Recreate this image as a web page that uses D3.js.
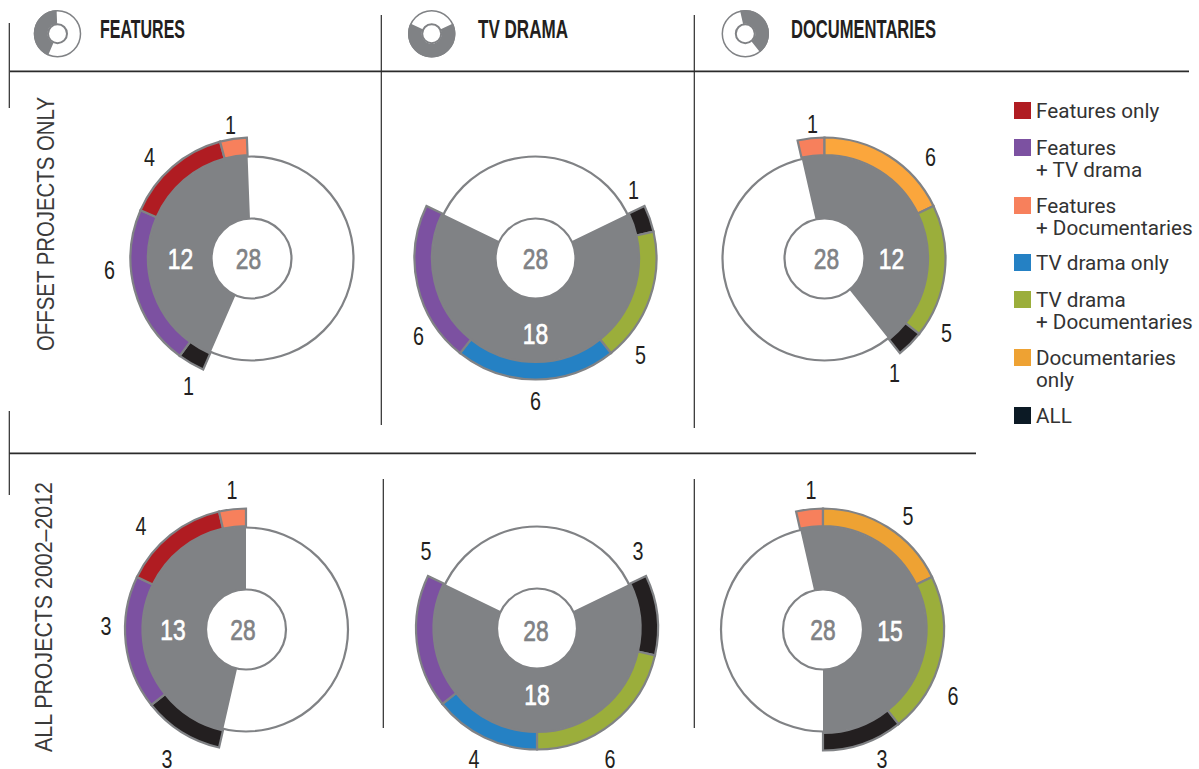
<!DOCTYPE html>
<html lang="en">
<head>
    <meta charset="UTF-8">
    <title>Projects by format</title>
    <style>
        body, html { margin: 0; padding: 0; background-color: #ffffff; }
        svg { display: block; }
        .narrow { font-family: "Liberation Sans", sans-serif; }
        .legend text { font-family: Roboto, sans-serif; font-size: 20.7px; fill: #333; }
    </style>
</head>
<body>
    <svg id="chart" width="1199" height="769"></svg>

    <script src="https://d3js.org/d3.v7.min.js"></script>
    <script>
        // Legend categories
        const categories = ["Features only", "Features + TV drama", "Features + Documentaries",
            "TV drama only", "TV drama + Documentaries", "Documentaries only", "ALL"];
        const legendLines = [["Features only"], ["Features", "+ TV drama"], ["Features", "+ Documentaries"],
            ["TV drama only"], ["TV drama", "+ Documentaries"], ["Documentaries", "only"], ["ALL"]];
        const categoryColors = ["#b01c22", "#7c51a1", "#f7805c", "#2581c4", "#9bae3b", "#eea233", "#231f20"];
        const legendColors = ["#b01c22", "#7c51a1", "#f7805c", "#2581c4", "#9bae3b", "#eea233", "#0c1a25"];

        const totalProjects = 28;
        const columnTitles = ["FEATURES", "TV DRAMA", "DOCUMENTARIES"];
        const rowTitles = ["OFFSET PROJECTS ONLY", "ALL PROJECTS 2002\u20132012"];

        // Each row: category index, arc length in projects, number printed beside it
        const offsetFeatures = [[6, 1, 1], [1, 6, 6], [0, 4, 4], [2, 1, 1]];
        const offsetDrama = [[6, 1, 1], [4, 5, 5], [3, 6, 6], [1, 6, 6]];
        const offsetDocs = [[2, 1, 1], [5, 5, 6], [4, 5, 5], [6, 1, 1]];
        const allFeatures = [[6, 3, 3], [1, 5, 3], [0, 4, 4], [2, 1, 1]];
        const allDrama = [[6, 3, 3], [4, 6, 6], [3, 4, 4], [1, 5, 5]];
        const allDocs = [[2, 1, 1], [5, 5, 5], [4, 6, 6], [6, 3, 3]];
        const wedgeTotals = [12, 18, 12, 13, 18, 15];

        // Layout, kept apart from the values
        const charts = [
            { rows: offsetFeatures, start: -12.17, cx: 251.5, cy: 258.5, total: [-71, 0], mid: [-3, 0],
              spots: [[-63, 127], [-142, 11], [-102, -102], [-21, -134]] },
            { rows: offsetDrama, start: 5, cx: 535.5, cy: 258.5, total: [0, 75], mid: [0, 0],
              spots: [[98, -69], [105, 96], [0, 142], [-117, 77]] },
            { rows: offsetDocs, start: -1, cx: 824.5, cy: 258.5, total: [67, 0], mid: [2, 0], docsColor: "#fba63c",
              spots: [[-12, -135], [106, -102], [122, 74], [70, 114]] },
            { rows: allFeatures, start: -13, cx: 246, cy: 629.5, total: [-73, 0], mid: [-3, 0],
              spots: [[-79, 129], [-140, -4], [-105, -104], [-14, -140]] },
            { rows: allDrama, start: 5, cx: 537, cy: 628.5, total: [0, 66], mid: [-1, 1.5],
              spots: [[101, -78], [73, 130], [-63, 130], [-111, -78]] },
            { rows: allDocs, start: -1, cx: 823, cy: 629.5, total: [67, 1], mid: [0, 0],
              spots: [[-12, -140], [85, -114], [130, 66], [59, 129]] }
        ];
        const headers = [
            { x: 57.5, chart: 0, textX: 100, width: 85 },
            { x: 431.7, chart: 1, textX: 478, width: 90 },
            { x: 745.3, chart: 2, textX: 791, width: 145 }
        ];
        const rowSpots = [
            { x: 53.5, y: 351, width: 254 },
            { x: 51.7, y: 752, width: 270 }
        ];
        const rules = [
            [10, 71.3, 1189, 71.3, 1.8], [9.3, 453.3, 976, 453.3, 1.8],
            [9.3, 23, 9.3, 108, 1.2], [9.3, 411, 9.3, 495, 1.2],
            [381.3, 15, 381.3, 425, 1.2], [694.3, 15, 694.3, 428, 1.2],
            [383.3, 479, 383.3, 728, 1.2], [694.3, 479, 694.3, 728, 1.2]
        ];
        const legendTops = [102, 139, 197, 254, 291, 349, 407];

        const gray = "#808285";
        const digitSqueeze = 0.76;
        const svg = d3.select("#chart");
        const angle = d3.scaleLinear().domain([0, totalProjects]).range([0, 2 * Math.PI]);

        // Frame lines
        svg.append("g").attr("stroke", "#2b2b2b").selectAll("line")
            .data(rules)
            .join("line")
            .attr("x1", d => d[0]).attr("y1", d => d[1])
            .attr("x2", d => d[2]).attr("y2", d => d[3])
            .attr("stroke-width", d => d[4]);

        // No narrow font here, so digits are squeezed sideways
        function squeezed(sel, x, y) {
            return sel.attr("class", "narrow")
                .attr("text-anchor", "middle")
                .attr("transform", `translate(${x},${y}) scale(${digitSqueeze},1)`);
        }

        // Big donuts
        charts.forEach((c, i) => {
            const g = svg.append("g").attr("transform", `translate(${c.cx},${c.cy})`);
            const units = d3.sum(c.rows, r => r[1]);
            const a0 = angle(c.start), a1 = angle(c.start + units);

            g.append("circle").attr("r", 102).attr("fill", "#fff").attr("stroke", gray).attr("stroke-width", 2.2);
            g.append("path").attr("fill", gray)
                .attr("d", d3.arc().innerRadius(40).outerRadius(103).startAngle(a0).endAngle(a1)());

            const pie = d3.pie().sort(null).value(r => r[1]).startAngle(a0).endAngle(a1);
            const ring = d3.arc().innerRadius(103.5).outerRadius(121);
            g.selectAll("path.seg")
                .data(pie(c.rows))
                .join("path")
                .attr("class", "seg")
                .attr("d", ring)
                .attr("fill", d => (d.data[0] === 5 && c.docsColor) || categoryColors[d.data[0]])
                .attr("stroke", gray)
                .attr("stroke-width", 2.2)
                .attr("stroke-linejoin", "miter");

            g.append("circle").attr("r", 40).attr("fill", "#fff").attr("stroke", gray).attr("stroke-width", 2.2);

            squeezed(g.append("text"), c.mid[0], c.mid[1] + 10.5).text(totalProjects)
                .attr("font-size", 30).attr("fill", gray).attr("stroke", gray).attr("stroke-width", 0.7);
            squeezed(g.append("text"), c.total[0], c.total[1] + 10.5).text(wedgeTotals[i])
                .attr("font-size", 30).attr("fill", "#fff").attr("stroke", "#fff").attr("stroke-width", 0.7);

            c.rows.forEach((r, j) => {
                squeezed(g.append("text"), c.spots[j][0], c.spots[j][1] + 9).text(r[2])
                    .attr("font-size", 26).attr("fill", "#231f20");
            });
        });

        // Column headers with their small key donuts
        headers.forEach((h, i) => {
            const c = charts[h.chart];
            const units = d3.sum(c.rows, r => r[1]);
            const g = svg.append("g").attr("transform", `translate(${h.x},33.7)`);
            g.append("circle").attr("r", 23).attr("fill", "#fff").attr("stroke", gray).attr("stroke-width", 1.5);
            g.append("circle").attr("r", 9.5).attr("fill", "#fff").attr("stroke", gray).attr("stroke-width", 2);
            g.append("path").attr("fill", gray)
                .attr("d", d3.arc().innerRadius(10).outerRadius(23.7)
                    .startAngle(angle(c.start)).endAngle(angle(c.start + units))());
            svg.append("text").attr("class", "narrow").text(columnTitles[i])
                .attr("x", h.textX).attr("y", 38)
                .attr("textLength", h.width).attr("lengthAdjust", "spacingAndGlyphs")
                .attr("font-size", 25).attr("font-weight", "bold").attr("fill", "#231f20");
        });

        // Row titles, rotated
        svg.selectAll("text.row")
            .data(rowTitles)
            .join("text")
            .attr("class", "narrow row")
            .text(d => d)
            .attr("transform", (d, i) => `translate(${rowSpots[i].x},${rowSpots[i].y}) rotate(-90)`)
            .attr("textLength", (d, i) => rowSpots[i].width)
            .attr("lengthAdjust", "spacingAndGlyphs")
            .attr("font-size", 24)
            .attr("fill", "#3a3a3a");

        // Legend
        const legend = svg.append("g").attr("class", "legend")
            .selectAll("g")
            .data(categories)
            .join("g")
            .attr("transform", (d, i) => `translate(1014,${legendTops[i]})`);
        legend.append("rect")
            .attr("width", 17).attr("height", 17)
            .attr("fill", (d, i) => legendColors[i]);
        legend.selectAll("text")
            .data((d, i) => legendLines[i])
            .join("text")
            .text(d => d)
            .attr("x", 22)
            .attr("y", (d, j) => 16 + j * 22);
    </script>
</body>
</html>
